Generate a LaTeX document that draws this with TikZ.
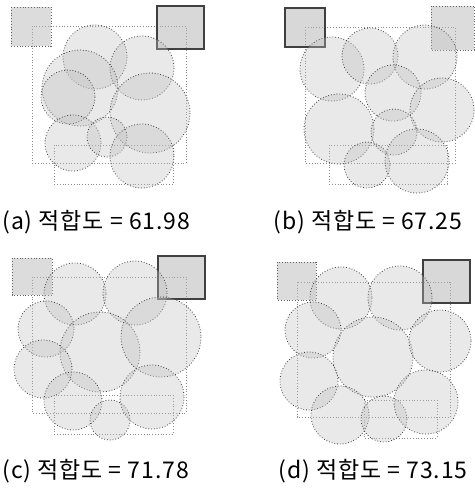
\documentclass[tikz,border=0pt]{standalone}
\usepackage{fontspec}
\newfontfamily\kr[LetterSpace=4]{Noto Sans CJK KR}
\tikzset{
  disc/.style={draw=black!75, densely dotted, fill=gray!50, fill opacity=0.35},
  pad/.style={draw=black!60, densely dotted, fill=gray!55, fill opacity=0.5},
  padedge/.style={draw=black!75, semithick, fill=gray!60, fill opacity=0.5},
  frame/.style={draw=black!45, densely dotted},
  caption/.style={anchor=west, font=\kr\fontsize{11.5}{13}\selectfont, inner sep=0pt}
}

\begin{document}
\begin{tikzpicture}[x=0.5pt, y=-0.5pt]
    \useasboundingbox (0,0) rectangle (475,493);

    % panel (a)
    \draw[frame] (32,26) rectangle (186,163);
    \draw[frame] (54,145) rectangle (173,184);
    \draw[pad] (11,7) rectangle (51,46);
    \draw[padedge] (157,6) rectangle (204,49);
    \foreach \x/\y/\r in {95/57/32, 142/68/32, 80/88/38, 68/97/27, 150/113/40,
                          73/143/28, 107/137/20, 142/156/32}
        \draw[disc] (\x,\y) circle (\r);

    % panel (b)
    \draw[frame] (305,27) rectangle (455,163);
    \draw[frame] (329,145) rectangle (447,184);
    \draw[padedge] (285,8) rectangle (325,47);
    \draw[pad] (431,6) rectangle (474,50);
    \foreach \x/\y/\r in {332/69/32, 370/56/28, 425/57/32, 393/93/28, 339/129/35,
                          442/110/32, 394/132/23, 367/165/23, 417/161/32}
        \draw[disc] (\x,\y) circle (\r);

    % panel (c)
    \draw[frame] (32,277) rectangle (186,413);
    \draw[frame] (54,395) rectangle (173,434);
    \draw[pad] (12,258) rectangle (52,295);
    \draw[padedge] (158,256) rectangle (205,299);
    \foreach \x/\y/\r in {75/294/31, 135/293/32, 46/329/28, 100/352/40, 161/337/40,
                          43/369/29, 73/401/29, 110/420/20, 152/397/32}
        \draw[disc] (\x,\y) circle (\r);

    % panel (d)
    \draw[frame] (297,282) rectangle (450,417);
    \draw[frame] (364,400) rectangle (437,438);
    \draw[pad] (277,262) rectangle (316,300);
    \draw[padedge] (423,260) rectangle (470,303);
    \foreach \x/\y/\r in {341/298/31, 400/298/32, 313/330/28, 373/357/40, 440/341/31,
                          309/381/29, 340/415/29, 384/419/23, 426/402/32}
        \draw[disc] (\x,\y) circle (\r);

    % captions
    \node[caption] (capa) at (2,222) {(a)\ 적합도 = 61.98};
    \node[caption] (capb) at (273,222) {(b)\ 적합도 = 67.25};
    \node[caption] (capc) at (2,471) {(c)\ 적합도 = 71.78};
    \node[caption] (capd) at (278,471) {(d)\ 적합도 = 73.15};

\end{tikzpicture}
\end{document}
